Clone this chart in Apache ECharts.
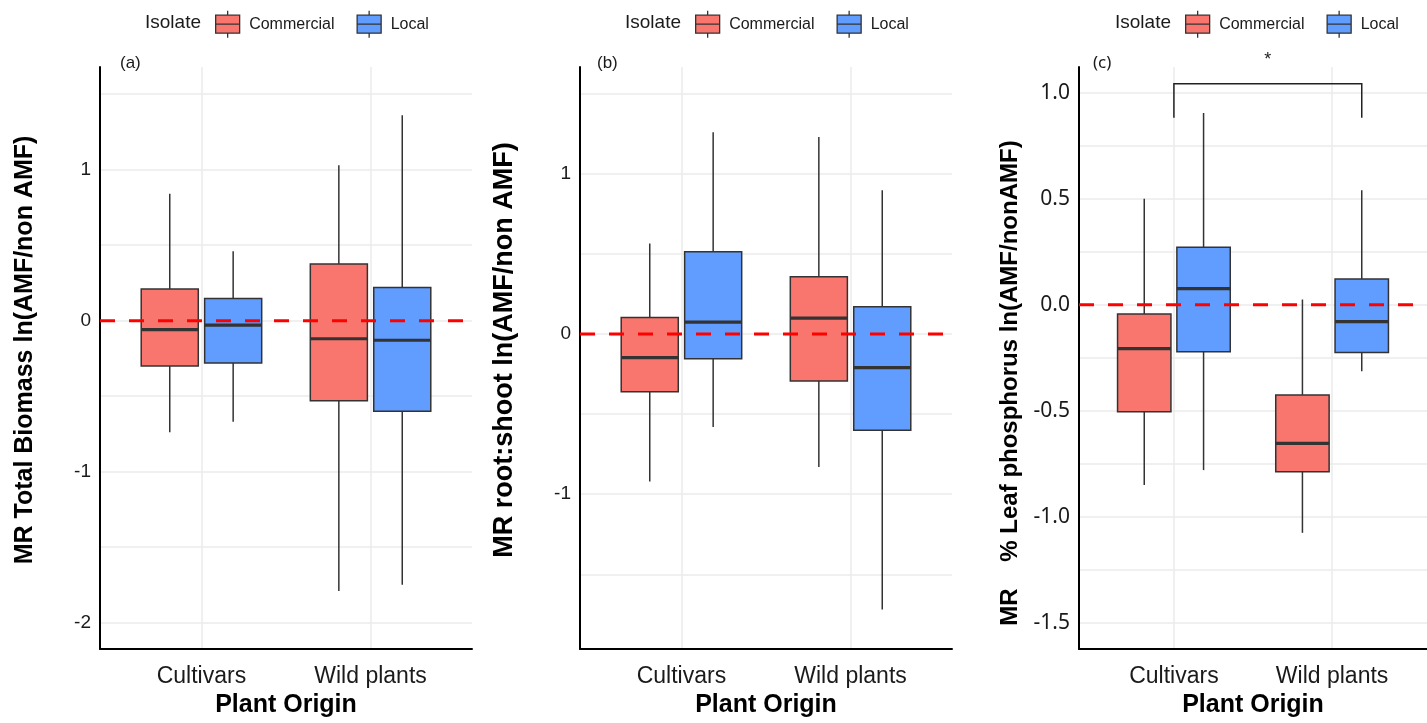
<!DOCTYPE html>
<html><head><meta charset="utf-8">
<script src="https://cdn.jsdelivr.net/npm/echarts@6/dist/echarts.min.js"></script>
<style>html,body{margin:0;padding:0;background:#fff}#c{width:1427px;height:723px}</style>
</head><body><div id="c"></div>
<script>
// ---------- data ----------
const categories = ['Cultivars', 'Wild plants'];
const isolates = ['Commercial', 'Local'];
// per category: [lower whisker, Q1, median, Q3, upper whisker]
const biomassCommercial = [[-0.74, -0.30, -0.06, 0.21, 0.84], [-1.79, -0.53, -0.12, 0.375, 1.03]];
const biomassLocal      = [[-0.67, -0.28, -0.03, 0.146, 0.46], [-1.75, -0.60, -0.13, 0.22, 1.36]];
const rootShootCommercial = [[-0.92, -0.36, -0.147, 0.104, 0.565], [-0.83, -0.293, 0.10, 0.357, 1.23]];
const rootShootLocal      = [[-0.58, -0.154, 0.075, 0.513, 1.26], [-1.72, -0.60, -0.21, 0.17, 0.897]];
const phosphorusCommercial = [[-0.85, -0.505, -0.207, -0.043, 0.50], [-1.076, -0.788, -0.654, -0.425, 0.025]];
const phosphorusLocal      = [[-0.78, -0.222, 0.076, 0.272, 0.905], [-0.314, -0.225, -0.079, 0.122, 0.54]];
const ticksA = [-2, -1, 0, 1];
const ticksB = [-1, 0, 1];
const ticksC = [-1.5, -1.0, -0.5, 0.0, 0.5, 1.0];
const gridA = [-2, -1.5, -1, -0.5, 0, 0.5, 1, 1.5];
const gridB = [-1.5, -1, -0.5, 0, 0.5, 1, 1.5];
const gridC = [-1.5, -1.25, -1, -0.75, -0.5, -0.25, 0, 0.25, 0.5, 0.75, 1];
const rangeA = [-2.175, 1.68];
const rangeB = [-1.966, 1.667];
const rangeC = [-1.624, 1.122];
const yTitles = ['MR Total Biomass ln(AMF/non AMF)', 'MR root:shoot ln(AMF/non AMF)', 'MR    % Leaf phosphorus ln(AMF/nonAMF)'];
const panelLabels = ['(a)', '(b)', '(c)'];
// significance bracket for panel (c): [from x, to x, tip y, bar y, label y]
const sigBracket = [[1, 2.1875, 0.883, 1.043, 1.155]];
const sigLabel = '*';

// ---------- layout / style ----------
const COLORS = { Commercial: '#F8766D', Local: '#619CFF' };
const DODGE = 0.1875, BOX_W = 0.3375;
const FONT = '"Liberation Sans", Arial, sans-serif';
const FONT_C = '"Noto Sans", "Open Sans", sans-serif';
const grids = [
  { left: 100, width: 372, top: 67, bottom: 73 },
  { left: 580, width: 372, top: 67, bottom: 73 },
  { left: 1079, width: 354, top: 67, bottom: 73 }
];
const legendLeft = [210, 690, 1180];
const isolateLeft = [140, 620, 1110];
const panelLabelLeft = [115, 592, 1088];
const nameGaps = [62, 62, 57];
const titleSizes = [25, 27, 24];
const titlePads = [[0, 0, 0, 16], [0, 0, 0, 16], [0, 50, 0, 0]];

function renderBox(params, api) {
  const x = api.value(0);
  const lo = api.coord([x, api.value(1)]);
  const q1 = api.coord([x, api.value(2)]);
  const md = api.coord([x, api.value(3)]);
  const q3 = api.coord([x, api.value(4)]);
  const hi = api.coord([x, api.value(5)]);
  const w = api.size([BOX_W, 0])[0];
  const cx = lo[0];
  const fill = api.visual('color');
  const s = { stroke: '#333333', lineWidth: 1.5 };
  return { type: 'group', children: [
    { type: 'line', shape: { x1: cx, y1: hi[1], x2: cx, y2: q3[1] }, style: s },
    { type: 'line', shape: { x1: cx, y1: q1[1], x2: cx, y2: lo[1] }, style: s },
    { type: 'rect', shape: { x: cx - w / 2, y: q3[1], width: w, height: q1[1] - q3[1] }, style: { fill: fill, stroke: '#333333', lineWidth: 1.5 } },
    { type: 'line', shape: { x1: cx - w / 2, y1: md[1], x2: cx + w / 2, y2: md[1] }, style: { stroke: '#333333', lineWidth: 3.2 } }
  ]};
}

function renderBracket(params, api) {
  const x1 = api.value(0), x2 = api.value(1);
  const a = api.coord([x1, api.value(2)]);
  const b = api.coord([x1, api.value(3)]);
  const c = api.coord([x2, api.value(3)]);
  const d = api.coord([x2, api.value(2)]);
  const t = api.coord([(x1 + x2) / 2, api.value(4)]);
  return { type: 'group', children: [
    { type: 'polyline', shape: { points: [a, b, c, d] }, style: { stroke: '#222', lineWidth: 1.5, fill: null } },
    { type: 'text', x: t[0], y: t[1], style: { text: sigLabel, fill: '#222', font: '18px ' + FONT, align: 'center', verticalAlign: 'middle' } }
  ]};
}

const panels = [
  { com: biomassCommercial, loc: biomassLocal, ticks: ticksA, grid: gridA, range: rangeA, fmt: v => String(v), font: FONT, fs: 19 },
  { com: rootShootCommercial, loc: rootShootLocal, ticks: ticksB, grid: gridB, range: rangeB, fmt: v => String(v), font: FONT, fs: 19 },
  { com: phosphorusCommercial, loc: phosphorusLocal, ticks: ticksC, grid: gridC, range: rangeC, fmt: v => v.toFixed(1), font: FONT_C, fs: 21 }
];

const legendIcon = 'path://M0,4.5H24V22.5H0Z M0,13.5H24 M12,0V4.5 M12,22.5V27';

const option = { animation: false, backgroundColor: '#ffffff', grid: grids, xAxis: [], yAxis: [], series: [], title: [], legend: [] };

panels.forEach((p, i) => {
  option.xAxis.push({
    gridIndex: i, type: 'value', min: 0.4, max: 2.6,
    axisLine: { show: true, onZero: false, lineStyle: { color: '#000', width: 2 } },
    axisTick: { show: false, customValues: [1, 2] },
    axisLabel: { customValues: [1, 2], formatter: v => categories[Math.round(v) - 1], margin: 16, fontSize: 23, color: '#1a1a1a', fontFamily: FONT },
    splitLine: { show: true, lineStyle: { color: '#ebebeb', width: 1.5 } },
    name: 'Plant Origin', nameLocation: 'middle', nameGap: 44,
    nameTextStyle: { fontSize: 25, fontWeight: 'bold', color: '#000', fontFamily: FONT }
  });
  option.yAxis.push({
    gridIndex: i, type: 'value', min: p.range[0], max: p.range[1],
    axisLine: { show: true, onZero: false, lineStyle: { color: '#000', width: 2 } },
    axisTick: { show: false, customValues: p.grid },
    axisLabel: { customValues: p.ticks, formatter: p.fmt, margin: 9, fontSize: p.fs, color: '#1a1a1a', fontFamily: p.font },
    splitLine: { show: true, lineStyle: { color: '#ebebeb', width: 1.5 } },
    name: yTitles[i], nameLocation: 'middle', nameGap: nameGaps[i], nameRotate: 90,
    nameTextStyle: { fontSize: titleSizes[i], fontWeight: 'bold', color: '#000', fontFamily: FONT, padding: titlePads[i] }
  });
  [['Commercial', p.com, -DODGE], ['Local', p.loc, DODGE]].forEach(([name, vals, off]) => {
    option.series.push({
      type: 'custom', name: name, xAxisIndex: i, yAxisIndex: i, z: 2,
      itemStyle: { color: COLORS[name] },
      renderItem: renderBox,
      encode: { x: 0, y: [1, 2, 3, 4, 5] },
      data: categories.map((c, k) => [k + 1 + off].concat(vals[k]))
    });
  });
  option.series.push({
    type: 'line', xAxisIndex: i, yAxisIndex: i, z: 5, symbol: 'none', silent: true,
    lineStyle: { color: '#ff0000', width: 3, type: [15, 14] },
    data: [[0.4, 0], [2.6, 0]]
  });
  option.legend.push({
    left: legendLeft[i], top: 5, orient: 'horizontal',
    itemWidth: 25, itemHeight: 27, itemGap: 22,
    icon: legendIcon,
    itemStyle: { borderColor: '#333333', borderWidth: 1.3 },
    textStyle: { fontSize: 16, color: '#1a1a1a', fontFamily: FONT, padding: [0, 0, 0, 4] },
    data: isolates.map(n => ({ name: n, icon: legendIcon }))
  });
  option.title.push({ text: 'Isolate', left: isolateLeft[i], top: 8, textStyle: { fontSize: 19, fontWeight: 'normal', color: '#1a1a1a', fontFamily: FONT } });
  option.title.push({ text: panelLabels[i], left: panelLabelLeft[i], top: 50, textStyle: { fontSize: 17, fontWeight: 'normal', color: '#1a1a1a', fontFamily: i === 2 ? FONT_C : FONT } });
});

option.series.push({
  type: 'custom', name: 'significance', xAxisIndex: 2, yAxisIndex: 2, z: 6, clip: false,
  renderItem: renderBracket, encode: { x: [0, 1], y: [2, 3, 4] },
  data: sigBracket
});

const chart = echarts.init(document.getElementById('c'), null, { renderer: 'canvas' });
chart.setOption(option);
</script>
</body></html>
